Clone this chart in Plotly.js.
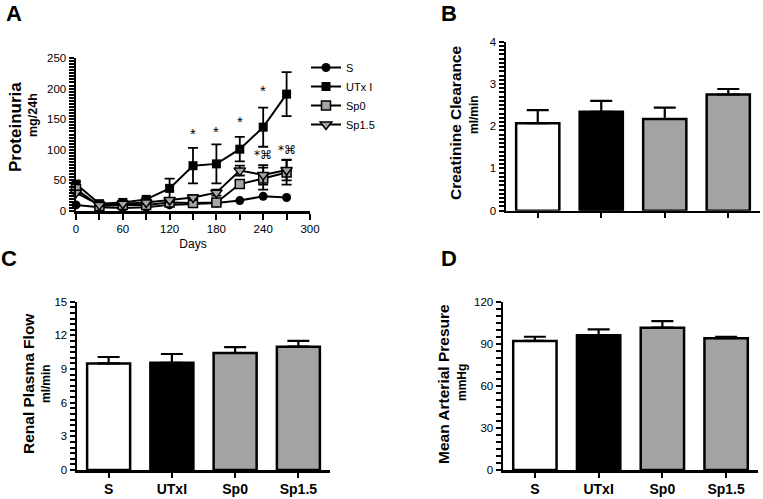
<!DOCTYPE html>
<html><head><meta charset="utf-8">
<script src="https://cdn.plot.ly/plotly-3.0.1.min.js"></script>
<style>html,body{margin:0;padding:0;background:#fff}#chart{width:763px;height:499px}</style>
</head><body><div id="chart"></div>
<script>
// ---- Panel A data ----
const days = [0, 30, 60, 90, 120, 150, 180, 210, 240, 270];
const protS = [10, 6, 5, 6, 10, 12, 13, 17, 24, 22];
const protUTx = [44, 12, 14, 19, 37, 74, 77, 101, 137, 191];
const protUTxErr = [4, 2, 2, 2, 16, 29, 32, 20, 32, 36];
const protSp0 = [36, 8, 10, 10, 14, 13, 14, 44, 53, 63];
const protSp0Err = [4, 2, 2, 2, 3, 3, 3, 5, 18, 20];
const protSp15 = [30, 10, 12, 14, 18, 22, 30, 66, 59, 67];
const protSp15Err = [3, 2, 2, 2, 3, 4, 5, 8, 16, 17];
const starDays = [150, 180, 210, 240, 270];
const starY = [126, 130, 146, 197, 254];
const star2Days = [240, 270];
const star2Y = [91, 100];
// ---- Bar panels ----
const groups = ["S", "UTxI", "Sp0", "Sp1.5"];
const crClear = [2.07, 2.34, 2.17, 2.75];
const crClearErr = [0.31, 0.26, 0.27, 0.13];
const rpf = [9.5, 9.56, 10.43, 10.99];
const rpfErr = [0.57, 0.78, 0.53, 0.51];
const map = [92, 96, 101.5, 94];
const mapErr = [3, 4.3, 4.7, 1];
const barColors = ["#ffffff", "#000000", "#a3a3a3", "#a3a3a3"];

const W = 763, H = 499;
const fx = p => p / W;
const fy = p => 1 - p / H;
const FONT = "Liberation Sans, Arial, sans-serif";

// tick positions: labelled every `major`, unlabelled minor ticks every `step`
function tickSet(max, step, major){
  const vals = [], text = [];
  const n = Math.round(max / step);
  for(let i = 0; i <= n; i++){
    const v = +(i * step).toFixed(4);
    vals.push(v);
    const isMajor = Math.abs(v / major - Math.round(v / major)) < 1e-6;
    text.push(isMajor ? String(v) : "");
  }
  return {vals, text};
}

const line = {color: "#000", width: 2};
function errs(a){return {type:"data", array:a, visible:true, color:"#000", thickness:1.8, width:5};}
const traces = [
  {x: days, y: protS, name: "S", type: "scatter", mode: "lines+markers", xaxis: "x", yaxis: "y",
   line: line, marker: {symbol: "circle", size: 9, color: "#000"}, cliponaxis: false},
  {x: days, y: protUTx, name: "UTx I", type: "scatter", mode: "lines+markers", xaxis: "x", yaxis: "y",
   line: line, marker: {symbol: "square", size: 9, color: "#000"}, error_y: errs(protUTxErr), cliponaxis: false},
  {x: days, y: protSp0, name: "Sp0", type: "scatter", mode: "lines+markers", xaxis: "x", yaxis: "y",
   line: line, marker: {symbol: "square", size: 9, color: "#a6a6a6", line: {color: "#000", width: 1.5}}, error_y: errs(protSp0Err), cliponaxis: false},
  {x: days, y: protSp15, name: "Sp1.5", type: "scatter", mode: "lines+markers", xaxis: "x", yaxis: "y",
   line: line, marker: {symbol: "triangle-down", size: 10, color: "#a6a6a6", line: {color: "#000", width: 1.5}}, error_y: errs(protSp15Err), cliponaxis: false}
];
function barTrace(vals, err, xa, ya){
  return {x: groups, y: vals, type: "bar", xaxis: xa, yaxis: ya, showlegend: false, width: 0.68,
    marker: {color: barColors, line: {color: "#000", width: 2.5}},
    error_y: {type: "data", symmetric: false, array: err, arrayminus: [0,0,0,0], color: "#000", thickness: 2.2, width: 11}};
}
traces.push(barTrace(crClear, crClearErr, "x2", "y2"));
traces.push(barTrace(rpf, rpfErr, "x3", "y3"));
traces.push(barTrace(map, mapErr, "x4", "y4"));

const tickFont = {family: FONT, size: 11.5, color: "#000"};
function yax(dom, max, step, major){
  const t = tickSet(max, step, major);
  return {domain: dom, range: [0, max], tickmode: "array", tickvals: t.vals, ticktext: t.text, showgrid: false, zeroline: false,
    showline: true, linecolor: "#000", linewidth: 2.5, ticks: "outside", ticklen: 5, tickwidth: 2, tickcolor: "#000",
    tickfont: tickFont, fixedrange: true};
}
function xcat(dom, showLabels){
  return {domain: dom, type: "category", range: [-0.5, 3.5], showgrid: false, zeroline: false,
    showline: true, linecolor: "#000", linewidth: 2.5, ticks: "outside", ticklen: 5, tickwidth: 2, tickcolor: "#000",
    showticklabels: showLabels, tickfont: {family: FONT, size: 14, color: "#000", weight: "bold"}, fixedrange: true};
}

const annotations = [];
function ann(text, x, y, size, bold, angle){
  annotations.push({text: bold ? "<b>" + text + "</b>" : text, xref: "paper", yref: "paper", x: fx(x), y: fy(y),
    xanchor: "center", yanchor: "middle", showarrow: false, textangle: angle || 0,
    font: {family: FONT, size: size, color: "#000"}});
}
ann("A", 14, 13, 22, true); ann("B", 449, 13, 22, true);
ann("C", 9, 258, 22, true); ann("D", 449, 258, 22, true);
ann("Proteinuria", 16, 127, 17, true, -90); ann("mg/24h", 33, 115, 12.5, true, -90);
ann("Creatinine Clearance", 455, 123, 15.5, true, -90); ann("ml/min", 474, 115, 12, true, -90);
ann("Renal Plasma Flow", 28, 384, 15.5, true, -90); ann("ml/min", 46, 384, 12, true, -90);
ann("Mean Arterial Presure", 443, 384, 15.5, true, -90); ann("mmHg", 462, 383, 12, true, -90);
starDays.forEach((d, i) => annotations.push({text: "*", x: d, y: starY[i], xref: "x", yref: "y", showarrow: false,
  xanchor: "center", yanchor: "middle", font: {family: FONT, size: 15, color: "#000"}}));
star2Days.forEach((d, i) => annotations.push({text: "*⌘", x: d, y: star2Y[i], xref: "x", yref: "y", showarrow: false,
  xanchor: "center", yanchor: "middle", font: {family: "DejaVu Sans, sans-serif", size: 12, color: "#000"}}));

const xtA = tickSet(300, 30, 60);
const layout = {
  width: W, height: H, margin: {l: 0, r: 0, t: 0, b: 0}, paper_bgcolor: "#fff", plot_bgcolor: "rgba(0,0,0,0)",
  font: {family: FONT, color: "#000"},
  showlegend: true,
  legend: {x: fx(306), y: fy(53), xanchor: "left", yanchor: "top", font: {family: FONT, size: 11, color: "#000"},
    bgcolor: "rgba(0,0,0,0)", itemwidth: 30, tracegroupgap: 0},
  xaxis: {domain: [fx(76), fx(310)], range: [0, 300], tickmode: "array", tickvals: xtA.vals, ticktext: xtA.text,
    showgrid: false, zeroline: false,
    showline: true, linecolor: "#000", linewidth: 2.5, ticks: "outside", ticklen: 6, tickwidth: 2, tickcolor: "#000",
    tickfont: tickFont, fixedrange: true, title: {text: "Days", font: {family: FONT, size: 12, color: "#000"}, standoff: 6}},
  yaxis: yax([fy(211), fy(58)], 250, 5, 50),
  xaxis2: Object.assign(xcat([fx(506), fx(760)], false), {anchor: "y2"}),
  yaxis2: Object.assign(yax([fy(210.7), fy(41.7)], 4, 0.1, 1), {anchor: "x2"}),
  xaxis3: Object.assign(xcat([fx(77), fx(330)], true), {anchor: "y3"}),
  yaxis3: Object.assign(yax([fy(470), fy(301.7)], 15, 0.5, 3), {anchor: "x3"}),
  xaxis4: Object.assign(xcat([fx(503), fx(758)], true), {anchor: "y4"}),
  yaxis4: Object.assign(yax([fy(470), fy(301.7)], 120, 5, 30), {anchor: "x4"}),
  annotations: annotations
};
Plotly.newPlot("chart", traces, layout, {staticPlot: true, displayModeBar: false});
</script></body></html>
